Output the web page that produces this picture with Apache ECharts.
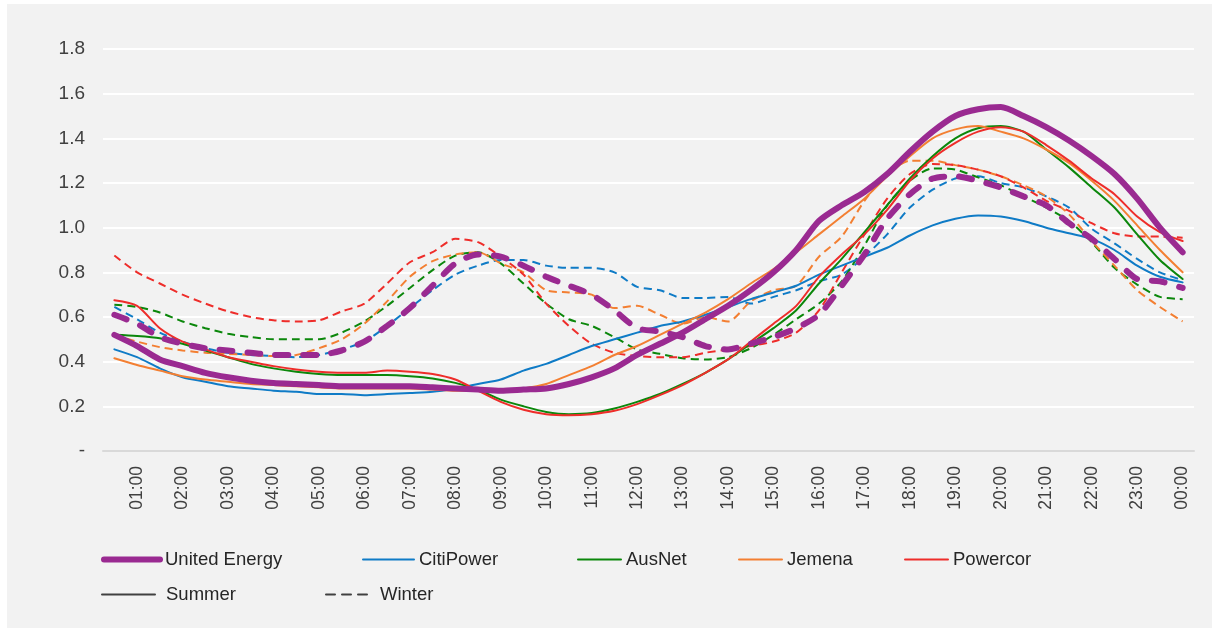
<!DOCTYPE html>
<html>
<head>
<meta charset="utf-8">
<script src="https://cdn.jsdelivr.net/npm/echarts@6/dist/echarts.min.js"></script>
<style>
  html, body { margin: 0; padding: 0; background: #ffffff; }
  #chart { width: 1212px; height: 628px; }
</style>
</head>
<body>
<div id="chart"></div>
<script>
// Half-hourly time categories (00:30 ... 00:00)
const times = ["00:30","01:00","01:30","02:00","02:30","03:00","03:30","04:00","04:30","05:00",
  "05:30","06:00","06:30","07:00","07:30","08:00","08:30","09:00","09:30","10:00",
  "10:30","11:00","11:30","12:00","12:30","13:00","13:30","14:00","14:30","15:00",
  "15:30","16:00","16:30","17:00","17:30","18:00","18:30","19:00","19:30","20:00",
  "20:30","21:00","21:30","22:00","22:30","23:00","23:30","00:00"];

const yTicks = [0, 0.2, 0.4, 0.6, 0.8, 1.0, 1.2, 1.4, 1.6, 1.8];

// Summer profiles
const ueSummer = [0.52,0.47,0.41,0.38,0.35,0.33,0.315,0.305,0.30,0.295,
  0.29,0.29,0.29,0.29,0.285,0.28,0.275,0.27,0.275,0.28,
  0.30,0.33,0.37,0.43,0.48,0.53,0.59,0.65,0.72,0.80,
  0.90,1.03,1.10,1.16,1.24,1.34,1.43,1.50,1.53,1.54,
  1.50,1.45,1.39,1.32,1.24,1.13,1.00,0.89];
const citiSummer = [0.455,0.42,0.37,0.33,0.31,0.29,0.28,0.27,0.265,0.255,
  0.255,0.25,0.255,0.26,0.265,0.28,0.30,0.32,0.36,0.39,
  0.43,0.47,0.50,0.53,0.56,0.58,0.61,0.645,0.68,0.71,
  0.74,0.79,0.83,0.87,0.91,0.965,1.01,1.04,1.055,1.05,
  1.03,1.00,0.975,0.95,0.90,0.83,0.78,0.755];
const ausSummer = [0.52,0.515,0.505,0.48,0.45,0.42,0.39,0.37,0.355,0.345,
  0.34,0.34,0.34,0.335,0.325,0.305,0.275,0.23,0.20,0.175,
  0.165,0.17,0.19,0.22,0.255,0.30,0.35,0.41,0.48,0.55,
  0.63,0.75,0.86,0.98,1.10,1.22,1.32,1.40,1.445,1.455,
  1.43,1.35,1.27,1.18,1.09,0.97,0.855,0.77];
const jemSummer = [0.415,0.385,0.36,0.335,0.32,0.31,0.30,0.295,0.29,0.285,
  0.28,0.28,0.28,0.28,0.275,0.27,0.27,0.27,0.28,0.30,
  0.34,0.38,0.43,0.47,0.52,0.57,0.62,0.68,0.75,0.815,
  0.89,0.97,1.05,1.13,1.23,1.32,1.40,1.44,1.455,1.43,
  1.40,1.35,1.29,1.21,1.12,1.01,0.90,0.80];
const powSummer = [0.675,0.65,0.55,0.49,0.455,0.42,0.40,0.38,0.365,0.355,
  0.35,0.35,0.36,0.355,0.345,0.32,0.27,0.22,0.185,0.165,
  0.16,0.165,0.18,0.21,0.25,0.295,0.35,0.41,0.49,0.57,
  0.65,0.78,0.88,0.97,1.08,1.21,1.31,1.38,1.43,1.45,
  1.43,1.37,1.30,1.22,1.15,1.05,0.98,0.94];

// Winter profiles
const ueWinter = [0.61,0.57,0.51,0.48,0.46,0.45,0.44,0.43,0.43,0.43,
  0.45,0.49,0.56,0.64,0.74,0.84,0.88,0.87,0.83,0.78,
  0.74,0.70,0.63,0.55,0.535,0.51,0.47,0.455,0.48,0.51,
  0.55,0.61,0.74,0.88,1.04,1.15,1.22,1.23,1.21,1.18,
  1.14,1.10,1.02,0.95,0.86,0.77,0.76,0.73];
const citiWinter = [0.645,0.59,0.53,0.49,0.46,0.44,0.43,0.425,0.42,0.43,
  0.455,0.49,0.56,0.64,0.72,0.79,0.83,0.855,0.855,0.83,
  0.82,0.82,0.80,0.735,0.72,0.685,0.685,0.69,0.66,0.69,
  0.72,0.76,0.79,0.87,0.97,1.09,1.17,1.22,1.23,1.20,
  1.18,1.14,1.09,0.995,0.93,0.86,0.80,0.765];
const ausWinter = [0.655,0.645,0.62,0.58,0.55,0.525,0.51,0.50,0.50,0.50,
  0.53,0.58,0.65,0.73,0.81,0.875,0.89,0.84,0.75,0.66,
  0.59,0.56,0.51,0.455,0.435,0.415,0.41,0.42,0.46,0.52,
  0.59,0.66,0.76,0.92,1.10,1.21,1.265,1.26,1.225,1.19,
  1.14,1.09,1.03,0.935,0.82,0.745,0.69,0.68];
const jemWinter = [0.52,0.49,0.465,0.45,0.44,0.435,0.43,0.425,0.43,0.46,
  0.50,0.57,0.67,0.78,0.85,0.88,0.89,0.84,0.80,0.72,
  0.71,0.70,0.64,0.65,0.61,0.57,0.60,0.58,0.67,0.72,
  0.74,0.87,0.96,1.12,1.24,1.30,1.30,1.28,1.26,1.23,
  1.19,1.14,1.06,0.94,0.83,0.72,0.645,0.58];
const powWinter = [0.875,0.80,0.75,0.70,0.66,0.625,0.60,0.585,0.58,0.585,
  0.625,0.66,0.75,0.845,0.89,0.95,0.935,0.87,0.79,0.66,
  0.56,0.48,0.44,0.425,0.42,0.42,0.44,0.455,0.47,0.49,
  0.53,0.63,0.80,0.97,1.13,1.24,1.285,1.28,1.26,1.23,
  1.18,1.12,1.075,1.02,0.975,0.96,0.96,0.955];

const networks = ["United Energy", "CitiPower", "AusNet", "Jemena", "Powercor"];
const colors = {
  "United Energy": "#9a2a91",
  "CitiPower": "#0f7bc6",
  "AusNet": "#0b870b",
  "Jemena": "#f37f32",
  "Powercor": "#ee2d2a"
};
const summerData = { "United Energy": ueSummer, "CitiPower": citiSummer, "AusNet": ausSummer, "Jemena": jemSummer, "Powercor": powSummer };
const winterData = { "United Energy": ueWinter, "CitiPower": citiWinter, "AusNet": ausWinter, "Jemena": jemWinter, "Powercor": powWinter };

const chart = echarts.init(document.getElementById('chart'), null, { renderer: 'canvas' });

const series = [];
// draw others first, UE last (on top)
const drawOrder = ["CitiPower", "AusNet", "Jemena", "Powercor", "United Energy"];
drawOrder.forEach(function (n) {
  const isUE = n === "United Energy";
  series.push({
    name: n + " Winter", type: 'line', data: winterData[n], symbol: 'none', smooth: 0.25,
    z: isUE ? 4 : 2,
    lineStyle: { color: colors[n], width: isUE ? 6 : 2, type: isUE ? [13, 15] : [8, 5], cap: isUE ? 'round' : 'butt' },
    itemStyle: { color: colors[n] }
  });
});
drawOrder.forEach(function (n) {
  const isUE = n === "United Energy";
  series.push({
    name: n, type: 'line', data: summerData[n], symbol: 'none', smooth: 0.25,
    z: isUE ? 5 : 3,
    lineStyle: { color: colors[n], width: isUE ? 6 : 2, cap: 'round' },
    itemStyle: { color: colors[n] }
  });
});
// legend-only series for season styles
series.push({ name: 'Summer', type: 'line', data: [], symbol: 'none', lineStyle: { color: '#404040', width: 2 }, itemStyle: { color: '#404040' } });
series.push({ name: 'Winter', type: 'line', data: [], symbol: 'none', lineStyle: { color: '#404040', width: 2, type: [9, 7] }, itemStyle: { color: '#404040' } });

function leg(name, left, top, w, lw, type, padLeft) {
  return {
    data: [name], left: left, top: top, itemWidth: w, itemHeight: 14, selectedMode: false,
    textStyle: { color: '#262626', fontSize: 18.5, fontFamily: 'Liberation Sans, Arial, sans-serif', padding: [0, 0, 0, padLeft || 0] },
    padding: 0,
    itemStyle: { opacity: 0 },
    lineStyle: { width: lw, type: type || 'solid', cap: 'round' }
  };
}

chart.setOption({
  animation: false,
  backgroundColor: '#ffffff',
  graphic: [{ type: 'rect', left: 7, top: 4, z: -10, shape: { width: 1205, height: 624 }, style: { fill: '#f2f2f2' } }],
  grid: { left: 103, right: 18, top: 49, bottom: 177, containLabel: false },
  xAxis: {
    type: 'category', data: times, boundaryGap: true,
    axisLine: { lineStyle: { color: '#d9d9d9', width: 2 } },
    axisTick: { show: false },
    splitLine: { show: false },
    axisLabel: {
      rotate: 90, margin: 15, color: '#404040', fontSize: 17.5, fontFamily: 'Liberation Sans, Arial, sans-serif',
      interval: function (index) { return index % 2 === 1; }
    }
  },
  yAxis: {
    type: 'value', min: 0, max: 1.8, interval: 0.2,
    axisLine: { show: false }, axisTick: { show: false },
    splitLine: { lineStyle: { color: '#ffffff', width: 2 } },
    axisLabel: {
      margin: 18, color: '#404040', fontSize: 19, fontFamily: 'Liberation Sans, Arial, sans-serif',
      formatter: function (v) {
        const t = yTicks.find(function (k) { return Math.abs(k - v) < 1e-6; });
        if (t === undefined) return '';
        return t === 0 ? '-' : t.toFixed(1);
      }
    }
  },
  legend: [
    leg('United Energy', 101, 550, 56, 6),
    leg('CitiPower', 362, 550, 51, 2),
    leg('AusNet', 577, 550, 43, 2),
    leg('Jemena', 738, 550, 43, 2),
    leg('Powercor', 904, 550, 43, 2),
    leg('Summer', 101, 585, 53, 2, null, 6),
    leg('Winter', 325, 585, 47, 2, [9, 7], 2)
  ],
  series: series
});
</script>
</body>
</html>
